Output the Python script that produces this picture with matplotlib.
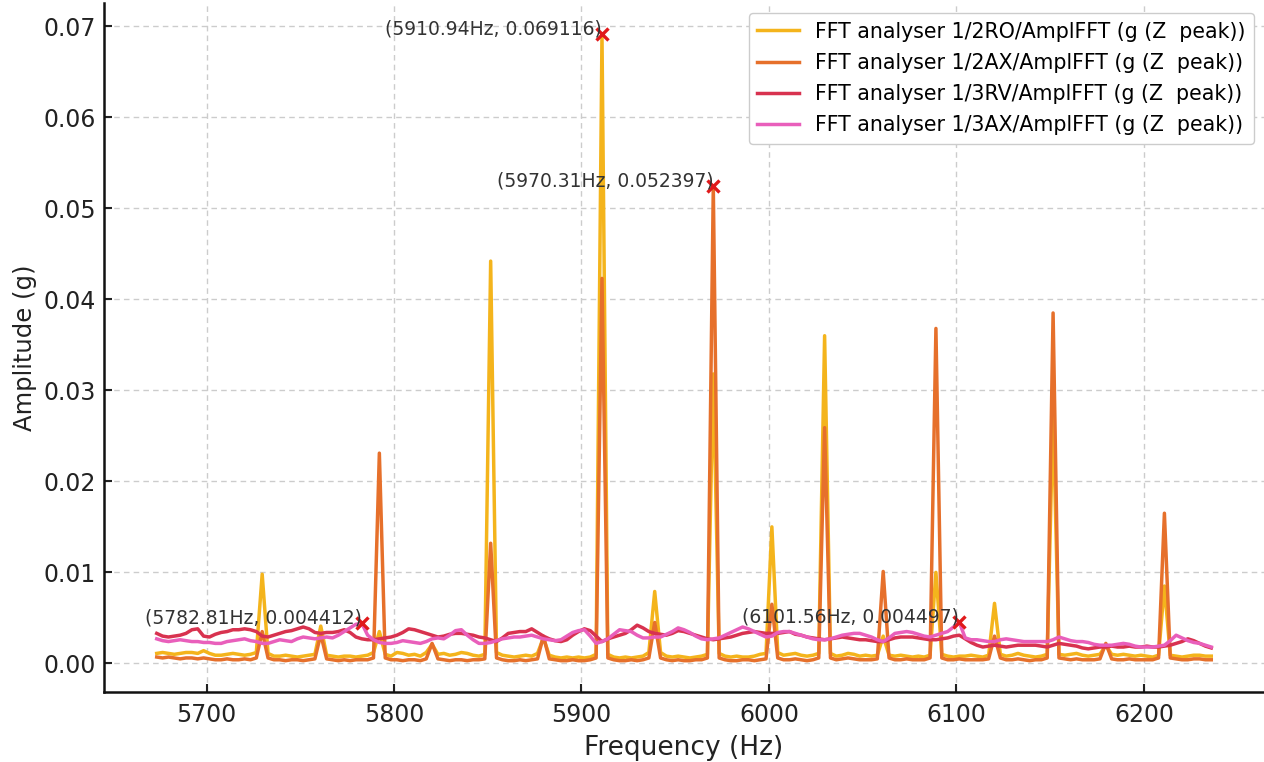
import numpy as np
import matplotlib
matplotlib.use("Agg")
import matplotlib.pyplot as plt

# FFT bins (Hz)
FREQ_START = 5673.4375
FREQ_STEP = 3.125

amp_ro = [
    0.0011, 0.0012, 0.0011, 0.0010, 0.0011, 0.0012, 0.0012, 0.0011, 0.0014, 0.0011,
    0.0009, 0.0009, 0.0010, 0.0011, 0.0010, 0.0009, 0.0010, 0.0012, 0.0098, 0.0011,
    0.0008, 0.0008, 0.0009, 0.0008, 0.0007, 0.0008, 0.0009, 0.0010, 0.0041, 0.0009,
    0.0008, 0.0007, 0.0008, 0.0008, 0.0007, 0.0008, 0.0009, 0.0012, 0.0035, 0.0010,
    0.0008, 0.0012, 0.0011, 0.0009, 0.0010, 0.0008, 0.0012, 0.0021, 0.0010, 0.0011,
    0.0009, 0.0010, 0.0012, 0.0011, 0.0009, 0.0008, 0.0010, 0.0442, 0.0012, 0.0009,
    0.0008, 0.0007, 0.0008, 0.0009, 0.0008, 0.0011, 0.0028, 0.0009, 0.0007, 0.0006,
    0.0007, 0.0006, 0.0007, 0.0006, 0.0007, 0.0010, 0.069116, 0.0010, 0.0007, 0.0006,
    0.0007, 0.0006, 0.0007, 0.0008, 0.0012, 0.0079, 0.0012, 0.0008, 0.0007, 0.0008,
    0.0007, 0.0006, 0.0007, 0.0008, 0.0010, 0.0318, 0.0011, 0.0008, 0.0007, 0.0008,
    0.0007, 0.0007, 0.0008, 0.0010, 0.0011, 0.0150, 0.0012, 0.0009, 0.0010, 0.0011,
    0.0009, 0.0008, 0.0009, 0.0011, 0.0360, 0.0011, 0.0008, 0.0009, 0.0011, 0.0010,
    0.0008, 0.0009, 0.0008, 0.0009, 0.0030, 0.0009, 0.0008, 0.0009, 0.0008, 0.0007,
    0.0008, 0.0007, 0.0009, 0.0100, 0.0010, 0.0008, 0.0007, 0.0008, 0.0008, 0.0009,
    0.0008, 0.0007, 0.0009, 0.0066, 0.0010, 0.0008, 0.0009, 0.0011, 0.0009, 0.0008,
    0.0007, 0.0008, 0.0010, 0.0275, 0.0010, 0.0009, 0.0010, 0.0011, 0.0009, 0.0008,
    0.0009, 0.0010, 0.0020, 0.0010, 0.0009, 0.0010, 0.0009, 0.0008, 0.0009, 0.0008,
    0.0007, 0.0009, 0.0085, 0.0009, 0.0008, 0.0007, 0.0008, 0.0009, 0.0009, 0.0008,
    0.0008,
]

amp_2ax = [
    0.0007, 0.0006, 0.0007, 0.0006, 0.0005, 0.0006, 0.0006, 0.0005, 0.0006, 0.0005,
    0.0004, 0.0004, 0.0005, 0.0004, 0.0004, 0.0005, 0.0004, 0.0006, 0.0035, 0.0006,
    0.0004, 0.0004, 0.0003, 0.0004, 0.0004, 0.0003, 0.0004, 0.0005, 0.0032, 0.0005,
    0.0004, 0.0003, 0.0004, 0.0003, 0.0004, 0.0004, 0.0004, 0.0006, 0.0231, 0.0006,
    0.0004, 0.0004, 0.0003, 0.0004, 0.0004, 0.0003, 0.0005, 0.0022, 0.0005, 0.0004,
    0.0003, 0.0004, 0.0004, 0.0003, 0.0004, 0.0004, 0.0005, 0.0132, 0.0006, 0.0004,
    0.0003, 0.0003, 0.0004, 0.0003, 0.0004, 0.0005, 0.0030, 0.0005, 0.0004, 0.0003,
    0.0003, 0.0004, 0.0003, 0.0003, 0.0004, 0.0006, 0.0423, 0.0006, 0.0004, 0.0003,
    0.0003, 0.0004, 0.0003, 0.0004, 0.0006, 0.0045, 0.0006, 0.0004, 0.0003, 0.0004,
    0.0003, 0.0003, 0.0004, 0.0004, 0.0006, 0.052397, 0.0006, 0.0004, 0.0003, 0.0003,
    0.0004, 0.0004, 0.0003, 0.0004, 0.0005, 0.0065, 0.0006, 0.0004, 0.0004, 0.0005,
    0.0004, 0.0003, 0.0004, 0.0006, 0.0259, 0.0006, 0.0004, 0.0005, 0.0006, 0.0005,
    0.0004, 0.0004, 0.0004, 0.0005, 0.0101, 0.0006, 0.0004, 0.0004, 0.0005, 0.0004,
    0.0004, 0.0004, 0.0006, 0.0368, 0.0006, 0.0004, 0.0004, 0.0005, 0.0004, 0.0004,
    0.0004, 0.0004, 0.0005, 0.0030, 0.0006, 0.0004, 0.0004, 0.0005, 0.0004, 0.0003,
    0.0004, 0.0004, 0.0006, 0.0385, 0.0006, 0.0005, 0.0004, 0.0005, 0.0004, 0.0004,
    0.0004, 0.0005, 0.0022, 0.0005, 0.0004, 0.0004, 0.0005, 0.0004, 0.0004, 0.0004,
    0.0004, 0.0006, 0.0165, 0.0006, 0.0005, 0.0004, 0.0004, 0.0005, 0.0005, 0.0004,
    0.0004,
]

amp_3rv = [
    0.0033, 0.0030, 0.0029, 0.0030, 0.0031, 0.0033, 0.0037, 0.0038, 0.0030, 0.0029,
    0.0032, 0.0034, 0.0035, 0.0037, 0.0037, 0.0038, 0.0037, 0.0035, 0.0030, 0.0029,
    0.0031, 0.0033, 0.0035, 0.0036, 0.0038, 0.0040, 0.0038, 0.0034, 0.0033, 0.0034,
    0.0034, 0.0035, 0.0037, 0.0034, 0.0029, 0.0027, 0.0026, 0.0026, 0.0027, 0.0028,
    0.0029, 0.0031, 0.0034, 0.0038, 0.0037, 0.0035, 0.0033, 0.0031, 0.0029, 0.0030,
    0.0032, 0.0033, 0.0033, 0.0032, 0.0031, 0.0029, 0.0028, 0.0026, 0.0024, 0.0028,
    0.0033, 0.0034, 0.0035, 0.0035, 0.0038, 0.0034, 0.0030, 0.0027, 0.0025, 0.0024,
    0.0026, 0.0031, 0.0035, 0.0038, 0.0036, 0.0030, 0.0024, 0.0027, 0.0029, 0.0031,
    0.0033, 0.0037, 0.0042, 0.0039, 0.0035, 0.0033, 0.0032, 0.0031, 0.0033, 0.0036,
    0.0035, 0.0033, 0.0031, 0.0029, 0.0027, 0.0026, 0.0027, 0.0028, 0.0029, 0.0031,
    0.0033, 0.0034, 0.0035, 0.0034, 0.0033, 0.0033, 0.0033, 0.0034, 0.0035, 0.0032,
    0.0031, 0.0029, 0.0028, 0.0027, 0.0026, 0.0027, 0.0028, 0.0029, 0.0028, 0.0027,
    0.0026, 0.0026, 0.0025, 0.0024, 0.0024, 0.0026, 0.0028, 0.0029, 0.0029, 0.0029,
    0.0028, 0.0027, 0.0026, 0.0026, 0.0027, 0.0028, 0.0030, 0.0031, 0.0027, 0.0023,
    0.0020, 0.0018, 0.0019, 0.0020, 0.0019, 0.0018, 0.0019, 0.0020, 0.0020, 0.0020,
    0.0020, 0.0019, 0.0018, 0.0020, 0.0022, 0.0021, 0.0020, 0.0019, 0.0017, 0.0016,
    0.0017, 0.0018, 0.0018, 0.0019, 0.0018, 0.0018, 0.0019, 0.0018, 0.0018, 0.0019,
    0.0018, 0.0018, 0.0019, 0.0020, 0.0022, 0.0024, 0.0027, 0.0025, 0.0022, 0.0019,
    0.0017,
]

amp_3ax = [
    0.0027, 0.0025, 0.0024, 0.0025, 0.0026, 0.0025, 0.0024, 0.0024, 0.0023, 0.0023,
    0.0022, 0.0022, 0.0024, 0.0025, 0.0026, 0.0027, 0.0025, 0.0024, 0.0022, 0.0022,
    0.0024, 0.0026, 0.0025, 0.0024, 0.0027, 0.0029, 0.0028, 0.0027, 0.0028, 0.0029,
    0.0028, 0.0031, 0.0035, 0.0039, 0.0043, 0.004412, 0.0031, 0.0026, 0.0023, 0.0022,
    0.0022, 0.0023, 0.0025, 0.0024, 0.0023, 0.0022, 0.0024, 0.0027, 0.0028, 0.0027,
    0.0031, 0.0036, 0.0037, 0.0031, 0.0026, 0.0022, 0.0022, 0.0023, 0.0025, 0.0027,
    0.0028, 0.0029, 0.0029, 0.0030, 0.0031, 0.0029, 0.0027, 0.0026, 0.0025, 0.0026,
    0.0030, 0.0034, 0.0036, 0.0037, 0.0030, 0.0022, 0.0024, 0.0027, 0.0032, 0.0037,
    0.0036, 0.0035, 0.0031, 0.0028, 0.0028, 0.0029, 0.0029, 0.0032, 0.0035, 0.0039,
    0.0037, 0.0034, 0.0030, 0.0027, 0.0026, 0.0027, 0.0028, 0.0031, 0.0034, 0.0037,
    0.0040, 0.0038, 0.0035, 0.0032, 0.0029, 0.0030, 0.0034, 0.0035, 0.0035, 0.0033,
    0.0031, 0.0029, 0.0027, 0.0026, 0.0026, 0.0027, 0.0029, 0.0031, 0.0032, 0.0033,
    0.0033, 0.0031, 0.0029, 0.0026, 0.0024, 0.0028, 0.0033, 0.0034, 0.0035, 0.0034,
    0.0032, 0.0030, 0.0029, 0.0031, 0.0033, 0.0035, 0.0040, 0.004497, 0.0028, 0.0026,
    0.0026, 0.0025, 0.0024, 0.0024, 0.0026, 0.0027, 0.0026, 0.0025, 0.0024, 0.0024,
    0.0024, 0.0024, 0.0024, 0.0026, 0.0029, 0.0027, 0.0025, 0.0024, 0.0024, 0.0023,
    0.0021, 0.0020, 0.0020, 0.0020, 0.0021, 0.0022, 0.0021, 0.0019, 0.0018, 0.0018,
    0.0018, 0.0019, 0.0020, 0.0025, 0.0031, 0.0028, 0.0025, 0.0023, 0.0022, 0.0020,
    0.0018,
]

series_labels = [
    "FFT analyser 1/2RO/AmplFFT (g (Z  peak))",
    "FFT analyser 1/2AX/AmplFFT (g (Z  peak))",
    "FFT analyser 1/3RV/AmplFFT (g (Z  peak))",
    "FFT analyser 1/3AX/AmplFFT (g (Z  peak))",
]
series_colors = ["#f4b41c", "#e6702b", "#d8324f", "#e95fbb"]

# marked points
mark_freqs = [5910.94, 5970.31, 5782.81, 6101.56]
mark_amps = [0.069116, 0.052397, 0.004412, 0.004497]

W, H = 1264, 762
fig = plt.figure(figsize=(W / 100, H / 100), dpi=100)
ax = fig.add_axes([104 / W, (H - 692) / H, 1160 / W, 689 / H])

freq = FREQ_START + FREQ_STEP * np.arange(len(amp_ro))
for amps, label, color in zip([amp_ro, amp_2ax, amp_3rv, amp_3ax], series_labels, series_colors):
    ax.plot(freq, amps, color=color, lw=2.5, label=label)

for f, a in zip(mark_freqs, mark_amps):
    ax.plot(f, a, "x", color="#e0191b", ms=9, mew=2.4, zorder=5)
    ax.text(f, a, f"({f:.2f}Hz, {a:.6f})", ha="right", va="baseline",
            fontsize=13.5, color="#333333", zorder=6)

ax.set_xlabel("Frequency (Hz)", fontsize=19, color="#222222", labelpad=6)
ax.set_ylabel("Amplitude (g)", fontsize=17.5, color="#222222")
ax.set_xticks([5700, 5800, 5900, 6000, 6100, 6200])
ax.set_yticks(np.arange(0, 0.071, 0.01))
ax.yaxis.set_major_formatter(matplotlib.ticker.FormatStrFormatter("%.2f"))
ax.tick_params(axis="both", labelsize=17, direction="in", length=6, width=1.5,
               colors="#222222")
ax.tick_params(axis="y", pad=6)
ax.tick_params(axis="x", pad=8)
ax.grid(True, linestyle=(0, (4, 3)), color="#cccccc", lw=1.0)
for side in ["top", "right"]:
    ax.spines[side].set_visible(False)
for side in ["left", "bottom"]:
    ax.spines[side].set_linewidth(1.8)
    ax.spines[side].set_color("#111111")

ax.legend(loc="upper right", fontsize=14.8, labelspacing=0.55, framealpha=1,
          edgecolor="#cccccc", fancybox=True)

fig.savefig("out.png", dpi=100)
